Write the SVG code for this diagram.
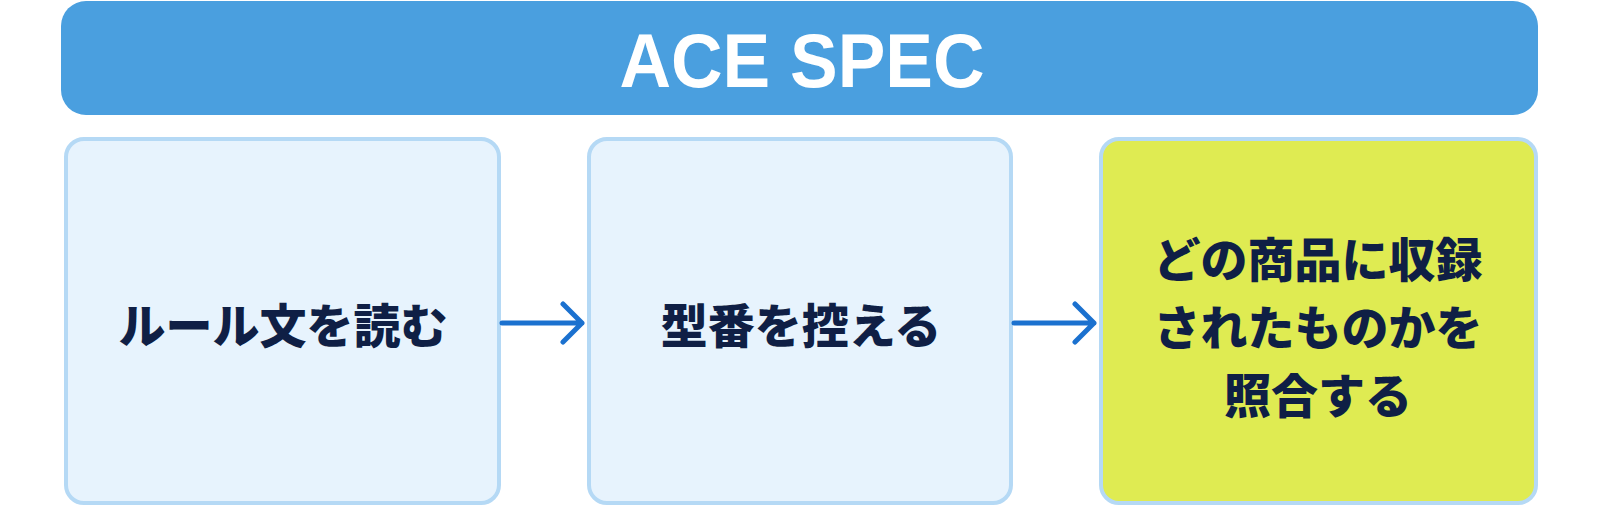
<svg xmlns="http://www.w3.org/2000/svg" width="1600" height="509" viewBox="0 0 1600 509">
  <defs>
    <style>
      .box { stroke: #b5d9f5; stroke-width: 4; }
      .blue { fill: #e7f3fd; }
      .hl { fill: #dfeb52; }
      .lbl { font-family: "Noto Sans CJK JP", "Noto Sans", sans-serif; font-weight: 900; font-size: 47px; fill: #0f1f45; text-anchor: middle; }
      .title { font-family: "Liberation Sans", Arial, sans-serif; font-weight: 700; font-size: 76px; fill: #ffffff; text-anchor: middle; }
      .conn { stroke: #1b71cf; stroke-width: 5; fill: none; stroke-linecap: round; stroke-linejoin: round; }
    </style>
  </defs>
  <rect width="1600" height="509" fill="#ffffff"/>
  <g id="header">
    <rect x="61" y="1" width="1477" height="114" rx="25" ry="25" fill="#4a9fdf"/>
    <text class="title" x="802" y="87" textLength="365" lengthAdjust="spacingAndGlyphs">ACE SPEC</text>
  </g>
  <g id="node1">
    <rect class="box blue" x="66" y="139" width="433" height="364" rx="18" ry="18"/>
    <text class="lbl" x="283" y="343">ルール文を読む</text>
  </g>
  <g id="node2">
    <rect class="box blue" x="589" y="139" width="422" height="364" rx="18" ry="18"/>
    <text class="lbl" x="801" y="343">型番を控える</text>
  </g>
  <g id="node3">
    <rect class="box hl" x="1101" y="139" width="435" height="364" rx="18" ry="18"/>
    <text class="lbl" x="1318" y="277">どの商品に収録</text>
    <text class="lbl" x="1318" y="345">されたものかを</text>
    <text class="lbl" x="1318" y="413">照合する</text>
  </g>
  <g id="connectors">
    <path class="conn" d="M502 323 H582 M563 304 L582 323 L563 342"/>
    <path class="conn" d="M1014 323 H1094 M1075 304 L1094 323 L1075 342"/>
  </g>
</svg>
